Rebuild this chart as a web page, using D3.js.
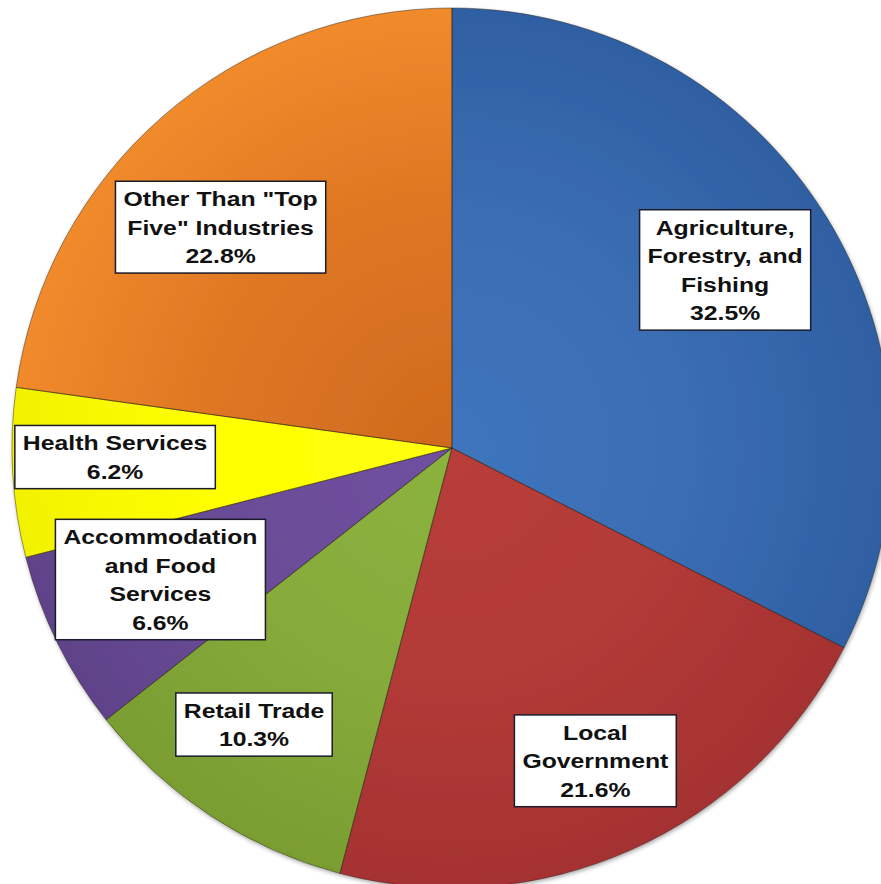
<!DOCTYPE html>
<html>
<head>
<meta charset="utf-8">
<script src="https://cdn.jsdelivr.net/npm/d3@7/dist/d3.min.js"></script>
<style>
  html, body { margin: 0; padding: 0; background: #ffffff; }
  svg { display: block; }
</style>
</head>
<body>
<svg id="chart" width="881" height="884"></svg>
<script>
// ---- data ----
const categories = [
  "Agriculture, Forestry, and Fishing",
  "Local Government",
  "Retail Trade",
  "Accommodation and Food Services",
  "Health Services",
  "Other Than \"Top Five\" Industries"
];
const values = [32.5, 21.6, 10.3, 6.6, 6.2, 22.8];
const labelLines = [
  ["Agriculture,", "Forestry, and", "Fishing"],
  ["Local", "Government"],
  ["Retail Trade"],
  ["Accommodation", "and Food", "Services"],
  ["Health Services"],
  ["Other Than \"Top", "Five\" Industries"]
];

// ---- styling / layout (not data) ----
// gradient stops: inner (near center), mid, outer edge
const stopInner = ["#3f75bd", "#b83d3a", "#8cb23f", "#6f50a0", "#ffff10", "#cf6a1e"];
const stopMid   = ["#3a6db3", "#b23a37", "#86ab3a", "#6b4c96", "#ffff00", "#de7622"];
const stopOuter = ["#2f5fa2", "#a53231", "#7a9d32", "#5f438a", "#f2f200", "#f08a2c"];
// label placement: angle offset (deg) from slice mid and radius fraction
const labelAngleOffset = [-1.6, -0.5, 2.3, 2.0, 1.7, -5.3];
const labelRadiusFrac = [0.741, 0.782, 0.773, 0.727, 0.766, 0.727];

const cx = 452, cy = 448, R = 440;
const fontSize = 21, lineH = 28.6, scaleX = 1.18;

const svg = d3.select("#chart");
const defs = svg.append("defs");

stopMid.forEach((c, i) => {
  const gr = defs.append("radialGradient")
    .attr("id", "grad" + i)
    .attr("gradientUnits", "userSpaceOnUse")
    .attr("cx", 0).attr("cy", 0).attr("r", R);
  gr.append("stop").attr("offset", "0%").attr("stop-color", stopInner[i]);
  gr.append("stop").attr("offset", "55%").attr("stop-color", stopMid[i]);
  gr.append("stop").attr("offset", "100%").attr("stop-color", stopOuter[i]);
});

const shadow = defs.append("filter").attr("id", "shadow")
  .attr("x", "-10%").attr("y", "-10%").attr("width", "120%").attr("height", "120%");
shadow.append("feGaussianBlur").attr("in", "SourceAlpha").attr("stdDeviation", 2);
shadow.append("feOffset").attr("dx", 1).attr("dy", 2).attr("result", "ob");
shadow.append("feComponentTransfer").append("feFuncA").attr("type", "linear").attr("slope", 0.35);
const merge = shadow.append("feMerge");
merge.append("feMergeNode");
merge.append("feMergeNode").attr("in", "SourceGraphic");

const data = categories.map((c, i) => ({ name: c, value: values[i], i }));

const pie = d3.pie().sort(null).value(d => d.value)
  .startAngle(0).endAngle(2 * Math.PI);
const arcs = pie(data);
const arc = d3.arc().innerRadius(0).outerRadius(R);

const g = svg.append("g").attr("transform", `translate(${cx},${cy})`);

g.append("g").attr("filter", "url(#shadow)")
  .selectAll("path").data(arcs).join("path")
  .attr("d", arc)
  .attr("fill", d => `url(#grad${d.data.i})`);

// slice separators
g.append("g").selectAll("path").data(arcs).join("path")
  .attr("d", arc)
  .attr("fill", "none")
  .attr("stroke", "rgba(40,30,20,0.45)")
  .attr("stroke-width", 1);

// ---- labels ----
const labels = g.append("g");
arcs.forEach((d, k) => {
  const mid = (d.startAngle + d.endAngle) / 2 + labelAngleOffset[k] * Math.PI / 180;
  const r = R * labelRadiusFrac[k];
  const x = r * Math.sin(mid), y = -r * Math.cos(mid);
  const lines = labelLines[k].concat([d3.format(".1f")(d.data.value) + "%"]);
  const lg = labels.append("g").attr("transform", `translate(${x},${y})`);
  const rect = lg.append("rect");
  const tg = lg.append("g").attr("transform", `scale(${scaleX},1)`);
  const n = lines.length;
  const t = tg.selectAll("text").data(lines).join("text")
    .attr("x", 0)
    .attr("y", (s, j) => (j - (n - 1) / 2) * lineH)
    .attr("dy", "0.36em")
    .attr("text-anchor", "middle")
    .attr("font-family", "'Liberation Sans', Arial, sans-serif")
    .attr("font-weight", "bold")
    .attr("font-size", fontSize)
    .attr("fill", "#111")
    .text(s => s);
  let maxW = 0;
  t.each(function () { maxW = Math.max(maxW, this.getComputedTextLength()); });
  const bw = maxW * scaleX + 16, bh = n * lineH + 6;
  rect.attr("x", -bw / 2).attr("y", -bh / 2)
    .attr("width", bw).attr("height", bh)
    .attr("fill", "#ffffff")
    .attr("stroke", "#1b1b2a")
    .attr("stroke-width", 1.5);
});
</script>
</body>
</html>
